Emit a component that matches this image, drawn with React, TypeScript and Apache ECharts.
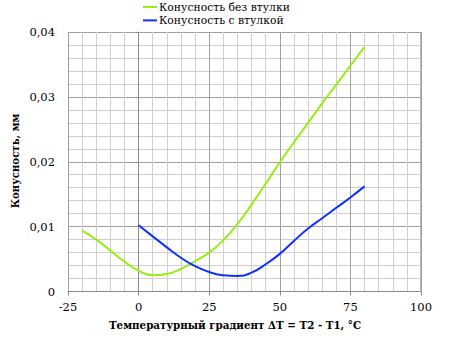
import React, { useEffect, useRef } from "react";
import * as echarts from "echarts";

const seriesNames = ["Конусность без втулки", "Конусность с втулкой"];
const xTitle = "Температурный градиент ΔT = T2 - T1, °C";
const yTitle = "Конусность, мм";

const tempsNoSleeve = [-20, -15, -10, -5, 0, 5, 10, 15, 20, 25, 30, 35, 40, 45, 50, 55, 60, 65, 70, 75, 80];
const taperNoSleeve = [
  0.0094, 0.008, 0.0063, 0.0046, 0.0032, 0.0025, 0.0027, 0.0035, 0.0047, 0.006, 0.0079,
  0.0104, 0.0134, 0.0166, 0.0199, 0.023, 0.026, 0.029, 0.0319, 0.0348, 0.0377,
];

const tempsSleeve = [0, 5, 10, 15, 20, 25, 30, 35, 40, 45, 50, 55, 60, 65, 70, 75, 80];
const taperSleeve = [
  0.0102, 0.0085, 0.0068, 0.0052, 0.0039, 0.003, 0.0025, 0.0024, 0.0029, 0.0042, 0.0058,
  0.0078, 0.0097, 0.0113, 0.0129, 0.0145, 0.0162,
];

const xMin = -25;
const xMax = 100;
const xStep = 25;
const yMin = 0;
const yMax = 0.04;
const yStep = 0.01;

const FONT = "DejaVu Serif";

export default function App() {
  const ref = useRef<HTMLDivElement>(null);

  useEffect(() => {
    if (!ref.current) return;
    const chart = echarts.init(ref.current, undefined, { renderer: "svg" });
    const axisLineColor = "#8c8c8c";
    const majorColor = "#a0a0a0";
    const minorColor = "#cfcfcf";
    chart.setOption({
      animation: false,
      backgroundColor: "#ffffff",
      textStyle: { fontFamily: FONT },
      grid: { left: 68, right: 29, top: 32, bottom: 48.5, containLabel: false },
      legend: {
        orient: "vertical",
        left: 143,
        top: 1,
        padding: 0,
        itemGap: 1.4,
        itemWidth: 14,
        itemHeight: 2,
        icon: "rect",
        textStyle: { fontFamily: FONT, fontSize: 10.8, color: "#000", lineHeight: 12, padding: [0, 0, 0, -3] },
        data: seriesNames,
      },
      xAxis: {
        type: "value",
        min: xMin,
        max: xMax,
        interval: xStep,
        axisLine: { show: true, onZero: false, lineStyle: { color: axisLineColor, width: 1 } },
        axisTick: { show: true, inside: false, length: 4, lineStyle: { color: axisLineColor } },
        axisLabel: { color: "#000", fontFamily: FONT, fontSize: 11.5, margin: 9 },
        splitLine: { show: true, lineStyle: { color: majorColor, width: 1 } },
        minorTick: { show: false, splitNumber: 5 },
        minorSplitLine: { show: true, lineStyle: { color: minorColor, width: 1 } },
      },
      yAxis: {
        type: "value",
        min: yMin,
        max: yMax,
        interval: yStep,
        axisLine: { show: true, lineStyle: { color: axisLineColor, width: 1 } },
        axisTick: { show: true, inside: false, length: 4, lineStyle: { color: axisLineColor } },
        axisLabel: {
          color: "#000",
          fontFamily: FONT,
          fontSize: 11.5,
          margin: 13,
          formatter: (v: number) => (v === 0 ? "0" : v.toFixed(2).replace(".", ",")),
        },
        splitLine: { show: true, lineStyle: { color: majorColor, width: 1 } },
        minorTick: { show: false, splitNumber: 5 },
        minorSplitLine: { show: true, lineStyle: { color: minorColor, width: 1 } },
      },
      graphic: [
        {
          type: "rect",
          shape: { x: 421, y: 32, width: 0, height: 259.5 },
          style: { stroke: majorColor, lineWidth: 1, fill: "none" },
          silent: true,
        },
        {
          type: "text",
          x: 235,
          y: 325,
          style: {
            text: xTitle,
            fontFamily: FONT,
            fontSize: 10.3,
            fontWeight: "bold",
            fill: "#000",
            textAlign: "center",
            textVerticalAlign: "middle",
          },
        },
        {
          type: "text",
          x: 15,
          y: 161,
          rotation: Math.PI / 2,
          style: {
            text: yTitle,
            fontFamily: FONT,
            fontSize: 10.2,
            fontWeight: "bold",
            fill: "#000",
            textAlign: "center",
            textVerticalAlign: "middle",
          },
        },
      ],
      series: [
        {
          name: seriesNames[0],
          type: "line",
          smooth: 0.5,
          showSymbol: false,
          symbol: "none",
          lineStyle: { color: "#99ee11", width: 2 },
          itemStyle: { color: "#99ee11" },
          data: tempsNoSleeve.map((t, i) => [t, taperNoSleeve[i]]),
        },
        {
          name: seriesNames[1],
          type: "line",
          smooth: 0.5,
          showSymbol: false,
          symbol: "none",
          lineStyle: { color: "#1030ff", width: 2 },
          itemStyle: { color: "#1030ff" },
          data: tempsSleeve.map((t, i) => [t, taperSleeve[i]]),
        },
      ],
    });
    return () => chart.dispose();
  }, []);

  return (
    <div
      ref={ref}
      style={{ position: "fixed", left: 0, top: 0, width: 450, height: 340, background: "#fff" }}
    />
  );
}
